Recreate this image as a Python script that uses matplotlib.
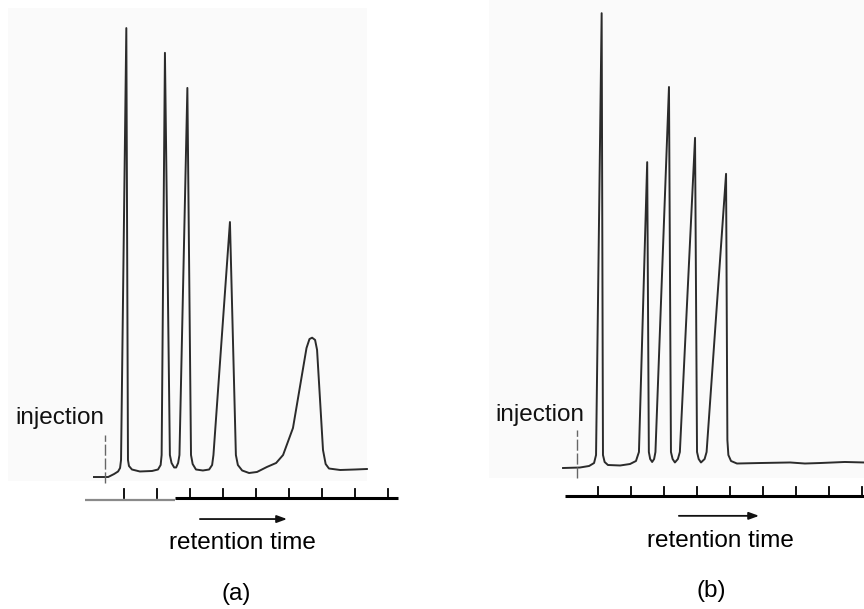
import numpy as np
import matplotlib
matplotlib.use("Agg")
import matplotlib.pyplot as plt

plt.rcParams["font.family"] = ["Liberation Sans", "DejaVu Sans"]

# Chromatogram (a): retention time [tick units] / detector signal [% full scale]
a_time = [-0.91, -0.48, -0.30, -0.18, -0.12, -0.09, 0.07, 0.12, 0.15, 0.24, 0.48, 0.85,
          1.03, 1.11, 1.14, 1.24, 1.39, 1.44, 1.52, 1.58, 1.64, 1.68, 1.92, 2.03, 2.08,
          2.18, 2.39, 2.58, 2.67, 2.71, 3.21, 3.39, 3.45, 3.58, 3.79, 4.03, 4.33, 4.61,
          4.82, 5.12, 5.53, 5.62, 5.70, 5.79, 5.85, 5.94, 6.03, 6.11, 6.21, 6.55, 7.00, 7.36]
a_signal = [-1.56, -1.56, -0.89, -0.33, 0.44, 2.22, 98.2, 2.22, 0.89, 0.11, -0.33, -0.22,
            0.11, 1.11, 3.33, 92.7, 3.33, 1.56, 0.56, 0.56, 1.56, 3.33, 84.9, 3.33, 1.33,
            0.11, -0.11, 0.11, 1.11, 3.33, 55.1, 3.33, 1.11, -0.11, -0.67, -0.44, 0.67, 1.56,
            3.33, 9.33, 27.1, 29.1, 29.4, 28.9, 26.7, 15.6, 4.44, 1.33, 0.33, 0.0, 0.11, 0.22]

# Chromatogram (b)
b_time = [-1.05, -0.54, -0.26, -0.11, -0.05, 0.12, 0.16, 0.21, 0.31, 0.68, 0.98, 1.16,
          1.25, 1.50, 1.55, 1.59, 1.65, 1.71, 1.75, 2.16, 2.22, 2.27, 2.34, 2.43, 2.49,
          2.95, 3.01, 3.06, 3.13, 3.24, 3.30, 3.89, 3.93, 3.96, 4.04, 4.22, 4.92, 5.83,
          6.28, 6.74, 7.49, 8.07]
b_signal = [-0.67, -0.56, -0.22, 0.44, 2.22, 100.4, 2.22, 0.67, 0.0, -0.11, 0.22, 0.89,
            2.89, 67.3, 2.89, 1.33, 0.67, 1.33, 2.89, 84.0, 2.89, 1.33, 0.56, 1.33, 2.89,
            72.7, 2.89, 1.33, 0.56, 1.33, 2.89, 64.7, 5.56, 2.22, 0.89, 0.33, 0.44, 0.56,
            0.33, 0.44, 0.67, 0.56]

ticks = [0, 1, 2, 3, 4, 5, 6, 7, 8]

fig = plt.figure(figsize=(8.64, 6.09), dpi=100)
fig.patch.set_facecolor("white")

line_col = "#2b2b2b"
txt_size = 17.5


def draw_panel(ax, time, signal, lims, bg, axis_y, axis_x, inj_x, inj_txt, arrow, label_pos, label):
    ax.set_xlim(*lims[0])
    ax.set_ylim(*lims[1])
    ax.axis("off")
    # faint paper tone behind the trace
    ax.add_patch(plt.Rectangle((bg[0], bg[1]), bg[2] - bg[0], bg[3] - bg[1],
                               facecolor="#fafafa", edgecolor="none", zorder=0))
    ax.plot(time, signal, color=line_col, lw=1.4, solid_joinstyle="round", zorder=2)

    # time axis with ticks
    ax.plot(axis_x, [axis_y, axis_y], color="black", lw=2.2, solid_capstyle="butt")
    for t in ticks:
        ax.plot([t, t], [axis_y, axis_y + 1.9], color="black", lw=1.3)

    # injection mark
    ax.plot([inj_x, inj_x], [-2.8, 7.8], color="#666666", lw=1.0, dashes=(8, 2))
    ax.text(inj_txt[0], inj_txt[1], "injection", fontsize=txt_size, ha="left", va="baseline",
            color="#111111")

    ax.annotate("", xy=(arrow[1], arrow[2]), xytext=(arrow[0], arrow[2]),
                arrowprops=dict(arrowstyle="-|>,head_length=0.6,head_width=0.22",
                                color="#111111", lw=1.3, shrinkA=0, shrinkB=0))
    ax.text(label_pos[0], label_pos[1], "retention time", fontsize=txt_size, ha="center",
            va="baseline", color="black")
    ax.text(label_pos[2], label_pos[3], label, fontsize=txt_size, ha="center",
            va="baseline", color="black")


ax_a = fig.add_axes([0, 0, 0.5, 1])
draw_panel(ax_a, a_time, a_signal,
           lims=((-3.758, 9.333), (-30.89, 104.44)),
           bg=(-3.515, -2.44, 7.364, 102.67),
           axis_y=-6.22, axis_x=[1.545, 8.29],
           inj_x=-0.576, inj_txt=(-3.30, 10.2),
           arrow=(2.30, 4.94, -10.9),
           label_pos=(3.59, -17.6, 3.39, -28.9), label="(a)")
# lighter leading part of the time axis in (a)
ax_a.plot([-1.18, 1.545], [-6.6, -6.6], color="#8a8a8a", lw=1.6, solid_capstyle="butt")

ax_b = fig.add_axes([0.5, 0, 0.5, 1])
draw_panel(ax_b, b_time, b_signal,
           lims=((-5.021, 8.070), (-32.0, 103.33)),
           bg=(-3.294, -2.89, 8.07, 103.33),
           axis_y=-6.89, axis_x=[-0.99, 8.07],
           inj_x=-0.627, inj_txt=(-3.11, 9.8),
           arrow=(2.46, 4.89, -11.3),
           label_pos=(3.73, -18.2, 3.43, -29.3), label="(b)")

fig.savefig("out.png", dpi=100, facecolor="white")
